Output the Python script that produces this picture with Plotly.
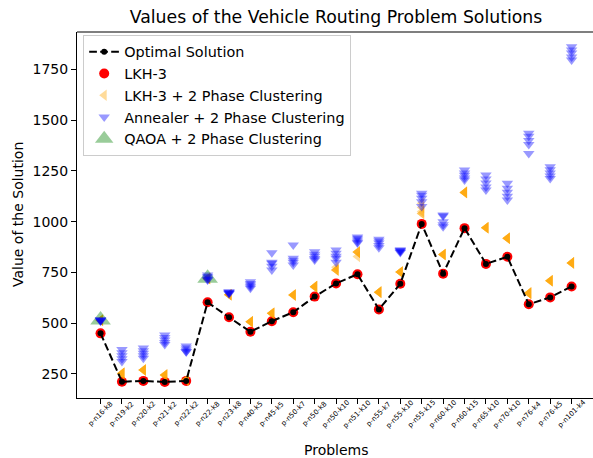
import plotly.graph_objects as go

problems = ["p-n16-k8", "p-n19-k2", "p-n20-k2", "p-n21-k2", "p-n22-k2", "p-n22-k8",
            "p-n23-k8", "p-n40-k5", "p-n45-k5", "p-n50-k7", "p-n50-k8", "p-n50-k10",
            "p-n51-k10", "p-n55-k7", "p-n55-k10", "p-n55-k15", "p-n60-k10", "p-n60-k15",
            "p-n65-k10", "p-n70-k10", "p-n76-k4", "p-n76-k5", "p-n101-k4"]

optimal = [450, 212, 216, 211, 216, 603, 529, 458, 510, 554, 631, 696,
           741, 568, 694, 989, 744, 968, 792, 827, 593, 627, 681]

lkh3 = [450, 212, 216, 211, 216, 603, 529, 458, 510, 554, 631, 696,
        741, 568, 694, 989, 744, 968, 792, 827, 593, 627, 681]

lkh3_cluster = [
    [515, 515, 515, 515, 515],
    [253, 253, 253, 253, 253],
    [270, 270, 270, 270, 270],
    [245, 245, 245, 245, 245],
    [220, 220, 220, 220, 220],
    [720, 720, 720, 720, 720],
    [640, 640, 640, 640, 640],
    [507, 507, 507, 507, 507],
    [549, 549, 549, 549, 549],
    [639, 639, 639, 639, 639],
    [680, 680, 680, 680, 680],
    [762, 762, 762, 762, 775],
    [850, 850, 850, 850, 828],
    [653, 653, 653, 653, 653],
    [752, 752, 752, 752, 752],
    [1090, 1070, 1050, 1040, 1040],
    [838, 838, 838, 838, 838],
    [1144, 1144, 1144, 1144, 1144],
    [970, 970, 970, 970, 970],
    [918, 918, 918, 918, 918],
    [648, 648, 648, 648, 648],
    [709, 709, 709, 709, 709],
    [797, 797, 797, 797, 797],
]

annealer_cluster = [
    [516, 516, 512, 510, 516],
    [370, 355, 340, 325, 312],
    [378, 365, 352, 340, 328],
    [442, 430, 417, 405, 395],
    [388, 378, 368, 360, 360],
    [737, 730, 722, 715, 713],
    [655, 652, 650, 648, 645],
    [704, 695, 688, 680, 672],
    [847, 800, 795, 780, 762],
    [885, 820, 810, 800, 787],
    [852, 840, 830, 818, 811],
    [860, 845, 830, 820, 800],
    [925, 918, 910, 900, 895],
    [913, 905, 895, 882, 872],
    [862, 858, 855, 852, 848],
    [1140, 1130, 1115, 1098, 1074],
    [1033, 1028, 1000, 985, 975],
    [1254, 1240, 1228, 1215, 1205],
    [1230, 1210, 1190, 1170, 1156],
    [1189, 1165, 1145, 1125, 1106],
    [1435, 1420, 1400, 1380, 1336],
    [1270, 1255, 1240, 1225, 1213],
    [1861, 1845, 1830, 1810, 1796],
]

qaoa_problems = ["p-n16-k8", "p-n22-k8"]
qaoa_values = [516, 721]

FONT = "DejaVu Sans"
idx = {p: i for i, p in enumerate(problems)}
xs = list(range(len(problems)))

def flatten(groups):
    gx, gy = [], []
    for i, vals in enumerate(groups):
        for v in vals:
            gx.append(i)
            gy.append(v)
    return gx, gy

fig = go.Figure()

fig.add_trace(go.Scatter(
    x=xs, y=lkh3, mode="markers", name="LKH-3", legendrank=2,
    marker=dict(symbol="circle", size=10, color="red", line=dict(width=0))))

ox, oy = flatten(lkh3_cluster)
fig.add_trace(go.Scatter(
    x=ox, y=oy, mode="markers", name="LKH-3 + 2 Phase Clustering", legendrank=3,
    marker=dict(symbol="triangle-left", size=10, color="orange", opacity=0.4, line=dict(width=0))))

qx = [idx[p] for p in qaoa_problems]
fig.add_trace(go.Scatter(
    x=qx, y=qaoa_values, mode="markers", name="QAOA + 2 Phase Clustering", legendrank=5,
    marker=dict(symbol="triangle-up", size=18, color="green", opacity=0.4, line=dict(width=0))))

bx, by = flatten(annealer_cluster)
fig.add_trace(go.Scatter(
    x=bx, y=by, mode="markers", name="Annealer + 2 Phase Clustering", legendrank=4,
    marker=dict(symbol="triangle-down", size=10, color="blue", opacity=0.4, line=dict(width=0))))

fig.add_trace(go.Scatter(
    x=xs, y=optimal, mode="lines+markers", name="Optimal Solution", legendrank=1,
    line=dict(color="black", width=2, dash="7.7px,3.3px"),
    marker=dict(symbol="circle", size=6, color="black")))

annotations = []
for i, p in enumerate(problems):
    annotations.append(dict(
        x=i, y=-0.044, xref="x", yref="paper", text=p, showarrow=False,
        textangle=-45, xanchor="center", yanchor="middle",
        font=dict(family=FONT, size=7, color="black")))

annotations.append(dict(
    x=0.502, y=-0.142, xref="paper", yref="paper", text="Problems", showarrow=False,
    xanchor="center", yanchor="middle", font=dict(family=FONT, size=14, color="black")))
annotations.append(dict(
    x=-0.1143, y=0.5, xref="paper", yref="paper", text="Value of the Solution", showarrow=False,
    textangle=-90, xanchor="center", yanchor="middle", font=dict(family=FONT, size=14, color="black")))

fig.update_layout(
    width=593, height=458,
    margin=dict(l=77, r=0, t=32, b=60),
    paper_bgcolor="white", plot_bgcolor="white",
    font=dict(family=FONT, size=14, color="black"),
    title=dict(text="Values of the Vehicle Routing Problem Solutions", x=0.502, xref="paper",
               xanchor="center", y=1 - 17 / 458, yanchor="middle",
               font=dict(family=FONT, size=17.3, color="black")),
    showlegend=True,
    legend=dict(x=0.012, y=0.992, xanchor="left", yanchor="top",
                bgcolor="rgba(255,255,255,0.8)", bordercolor="#cccccc", borderwidth=1,
                font=dict(family=FONT, size=14.4, color="black"), tracegroupgap=0,
                itemwidth=30),
    annotations=annotations,
    shapes=[dict(type="line", xref="paper", yref="paper", x0=0, x1=1, y0=1, y1=1,
                 line=dict(color="black", width=1.1))],
)

fig.update_xaxes(range=[-1.1, 23.0], tickmode="array", tickvals=xs, showticklabels=False,
                 ticks="outside", ticklen=5, tickwidth=1, tickcolor="black",
                 showline=True, linecolor="black", linewidth=1.1, showgrid=False, zeroline=False)
fig.update_yaxes(range=[131.8, 1933.6], tickmode="array", tickvals=[250, 500, 750, 1000, 1250, 1500, 1750],
                 ticks="outside", ticklen=5, tickwidth=1, tickcolor="black",
                 tickfont=dict(family=FONT, size=14, color="black"),
                 showline=True, linecolor="black", linewidth=1.1, showgrid=False, zeroline=False)

# remove the page's default body margin so the figure fills the window exactly
fig.write_html("out.html", config={"displayModeBar": False},
               post_script="document.body.style.margin='0';")
